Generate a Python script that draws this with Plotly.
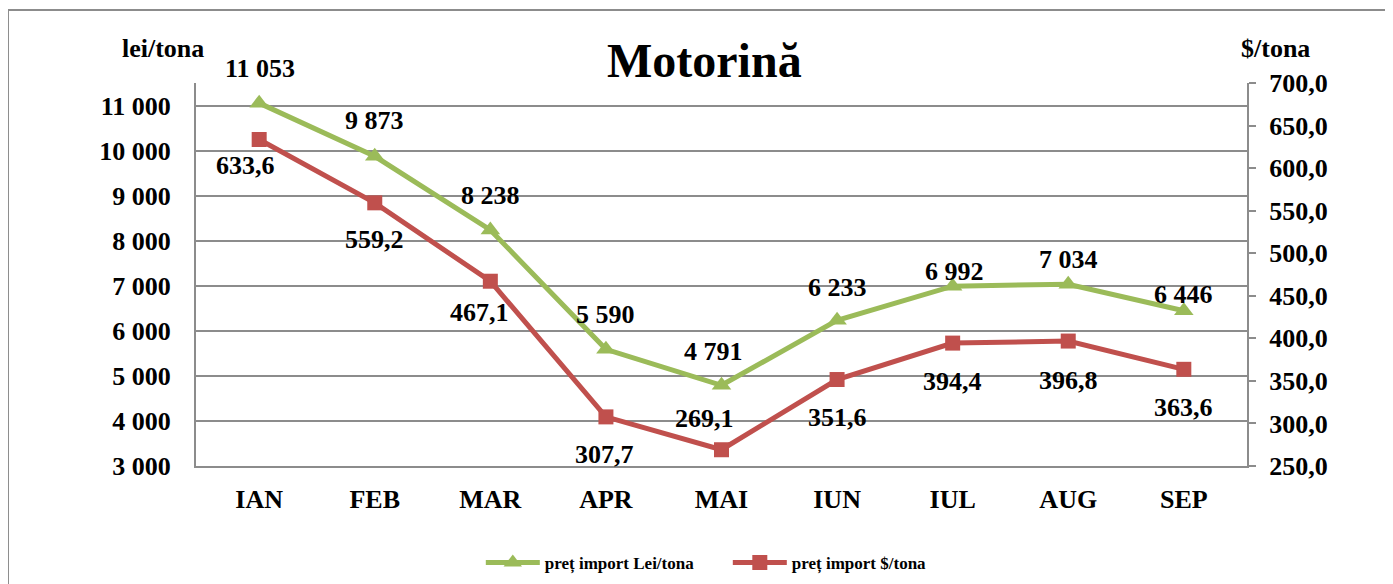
import plotly.graph_objects as go

months = ["IAN", "FEB", "MAR", "APR", "MAI", "IUN", "IUL", "AUG", "SEP"]
lei_tona = [11053, 9873, 8238, 5590, 4791, 6233, 6992, 7034, 6446]
usd_tona = [633.6, 559.2, 467.1, 307.7, 269.1, 351.6, 394.4, 396.8, 363.6]
lei_ticks = [3000, 4000, 5000, 6000, 7000, 8000, 9000, 10000, 11000]
usd_ticks = [250, 300, 350, 400, 450, 500, 550, 600, 650, 700]

# label offsets in pixels (dx, dy) relative to each point
lei_offsets = [(1, 35), (0, 36), (0, 34), (0, 35), (-8, 34), (0, 33), (2, 15), (0, 25), (0, 16)]
usd_offsets = [(-14, -26), (0, -37), (-11, -31), (-1, -38), (-17, 31), (0, -38), (0, -38), (0, -39), (0, -38)]

GREEN = "#9BBB59"
RED = "#C0504D"
GREY = "#8c8c8c"
FONT = "Liberation Serif"

fig = go.Figure()

fig.add_trace(go.Scatter(
    x=months, y=lei_tona, name="preț import Lei/tona",
    mode="lines+markers",
    line=dict(color=GREEN, width=5),
    marker=dict(symbol="triangle-up", size=17, color=GREEN),
    cliponaxis=False,
))

fig.add_trace(go.Scatter(
    x=months, y=usd_tona, name="preț import $/tona", yaxis="y2",
    mode="lines+markers",
    line=dict(color=RED, width=5),
    marker=dict(symbol="square", size=15, color=RED),
    cliponaxis=False,
))

label_font = dict(family=FONT, size=26, color="black", weight="bold")

for m, v, (dx, dy) in zip(months, lei_tona, lei_offsets):
    fig.add_annotation(x=m, y=v, xref="x", yref="y", text=f"{v:,}".replace(",", " "),
                       showarrow=False, xshift=dx, yshift=dy, font=label_font)

for m, v, (dx, dy) in zip(months, usd_tona, usd_offsets):
    fig.add_annotation(x=m, y=v, xref="x", yref="y2", text=f"{v:.1f}".replace(".", ","),
                       showarrow=False, xshift=dx, yshift=dy, font=label_font)

tick_font = dict(family=FONT, size=26, color="black", weight="bold")

fig.update_layout(
    width=1385, height=576,
    margin=dict(l=188, r=146, t=75, b=118, autoexpand=False),
    paper_bgcolor="white", plot_bgcolor="white",
    separators=", ",
    font=dict(family=FONT, color="black"),
    xaxis=dict(
        type="category", tickfont=tick_font, showgrid=False,
        showline=True, linecolor=GREY, linewidth=2,
        ticks="", ticklabelstandoff=9, automargin=False,
    ),
    yaxis=dict(
        range=[3000, 11500], tickvals=lei_ticks, tickformat=",d",
        tickfont=tick_font, showgrid=True, gridcolor=GREY, gridwidth=2,
        showline=True, linecolor=GREY, linewidth=2,
        zeroline=False, ticks="", ticklabelstandoff=18, automargin=False,
    ),
    yaxis2=dict(
        overlaying="y", side="right",
        range=[250, 700], tickvals=usd_ticks, tickformat=".1f",
        tickfont=tick_font, showgrid=False,
        showline=True, linecolor=GREY, linewidth=2,
        zeroline=False, ticks="outside", ticklen=7, tickcolor=GREY,
        tickwidth=2, ticklabelstandoff=8, automargin=False,
    ),
    legend=dict(
        orientation="h", x=0.506, xanchor="center", y=-0.253, yanchor="middle",
        font=dict(family=FONT, size=17, color="black", weight="bold"),
        itemwidth=54, entrywidth=178, entrywidthmode="pixels",
    ),
    showlegend=True,
)

fig.add_annotation(text="Motorină", xref="paper", yref="paper", x=0.484, y=1.06,
                   xanchor="center", yanchor="middle", showarrow=False,
                   font=dict(family=FONT, size=48, color="black", weight="bold"))
fig.add_annotation(text="lei/tona", xref="paper", yref="paper", x=-0.031, y=1.091,
                   xanchor="center", yanchor="middle", showarrow=False,
                   font=dict(family=FONT, size=26, color="black", weight="bold"))
fig.add_annotation(text="$/tona", xref="paper", yref="paper", x=1.027, y=1.091,
                   xanchor="center", yanchor="middle", showarrow=False,
                   font=dict(family=FONT, size=26, color="black", weight="bold"))

# outer chart border
fig.add_shape(type="rect", xref="paper", yref="paper",
              x0=-0.1789, y0=-0.45, x1=1.2, y1=1.1906,
              line=dict(color=GREY, width=2), fillcolor="rgba(0,0,0,0)",
              layer="below")

fig.write_html("out.html")
